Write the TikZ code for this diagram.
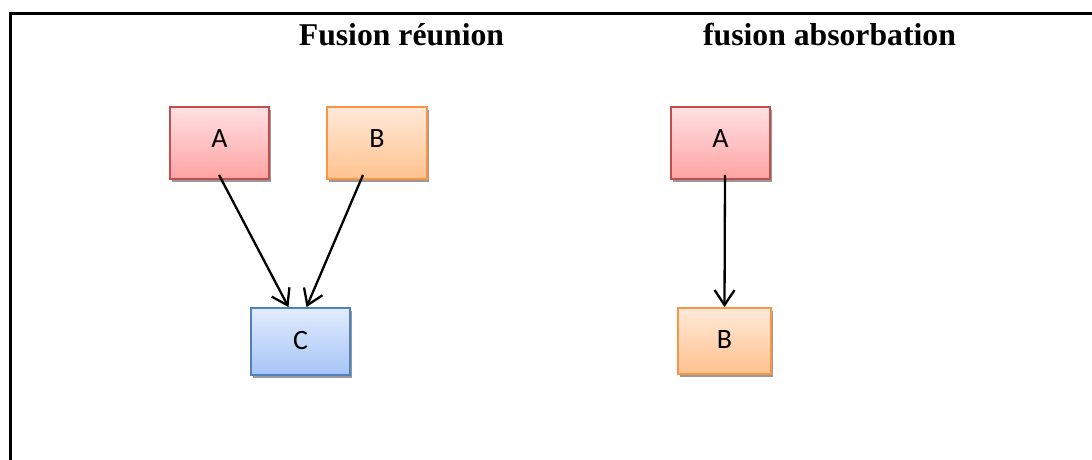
\documentclass[tikz,border=0pt]{standalone}
\usepackage{fontspec}
\setmainfont{Liberation Serif}
\newfontfamily\boxfont{Carlito}
\usetikzlibrary{arrows.meta,shadows,calc}

\definecolor{redline}{HTML}{C0504D}
\definecolor{redtop}{HTML}{FFE0E3}
\definecolor{redbot}{HTML}{FFA3A3}
\definecolor{orangeline}{HTML}{F79646}
\definecolor{orangetop}{HTML}{FFE9D9}
\definecolor{orangebot}{HTML}{FFC28E}
\definecolor{blueline}{HTML}{4F81BD}
\definecolor{bluetop}{HTML}{E2ECFF}
\definecolor{bluebot}{HTML}{A6C4F6}

\tikzset{
  entity/.style={rectangle, line width=1.8pt, inner sep=0pt,
    font=\boxfont\fontsize{28}{30}\selectfont, text height=18pt,
    drop shadow={shadow xshift=1.5pt, shadow yshift=-3pt, fill=black!40, opacity=1}},
  upper/.style={text depth=10pt},
  lower/.style={text depth=3pt},
  redbox/.style={entity, draw=redline, top color=redtop, bottom color=redbot},
  orangebox/.style={entity, draw=orangeline, top color=orangetop, bottom color=orangebot},
  bluebox/.style={entity, draw=blueline, top color=bluetop, bottom color=bluebot},
  link/.style={line width=2.3pt, -{Straight Barb[length=15pt,width=20pt,line width=2.3pt]}},
  heading/.style={font=\bfseries\fontsize{31.7}{34}\selectfont, anchor=base, inner sep=0pt},
  frame/.style={line width=3pt}
}

\begin{document}
\begin{tikzpicture}[x=1pt, y=-1pt]
\useasboundingbox (0,0) rectangle (1092,460);

% open frame: top and left edges
\coordinate (ftl) at (10,14);
\coordinate (ftr) at (1092,14);
\coordinate (fbl) at (10,460);
\draw[frame] (ftr) -- (ftl) -- (fbl);

% headings
\node[heading] (t1) at (401.5,46) {Fusion réunion};
\node[heading] (t2) at (829.5,46) {fusion absorbation};

% merge by union
\node[redbox, upper, minimum width=99pt, minimum height=72pt] (aL) at (219.5,143) {A};
\node[orangebox, upper, minimum width=100pt, minimum height=72pt] (bL) at (377,143) {B};
\node[bluebox, lower, minimum width=99pt, minimum height=67pt] (cL) at (300.5,341.5) {C};

% merge by absorption
\node[redbox, upper, minimum width=99pt, minimum height=72pt] (aR) at (720.5,143) {A};
\node[orangebox, lower, minimum width=93pt, minimum height=66pt] (bR) at (724.5,341) {B};

% connectors
\coordinate (aLs) at ($(aL.south)+(-0.5,-5)$);
\coordinate (bLs) at ($(bL.south)+(-14,-5)$);
\coordinate (cLa) at ($(cL.north)+(-12,0)$);
\coordinate (cLb) at ($(cL.north)+(6,0)$);
\draw[link] (aLs) -- (cLa);
\draw[link] (bLs) -- (cLb);

\coordinate (aRs) at ($(aR.south)+(4.5,-5)$);
\draw[link] (aRs) -- (bR.north);
\end{tikzpicture}
\end{document}
